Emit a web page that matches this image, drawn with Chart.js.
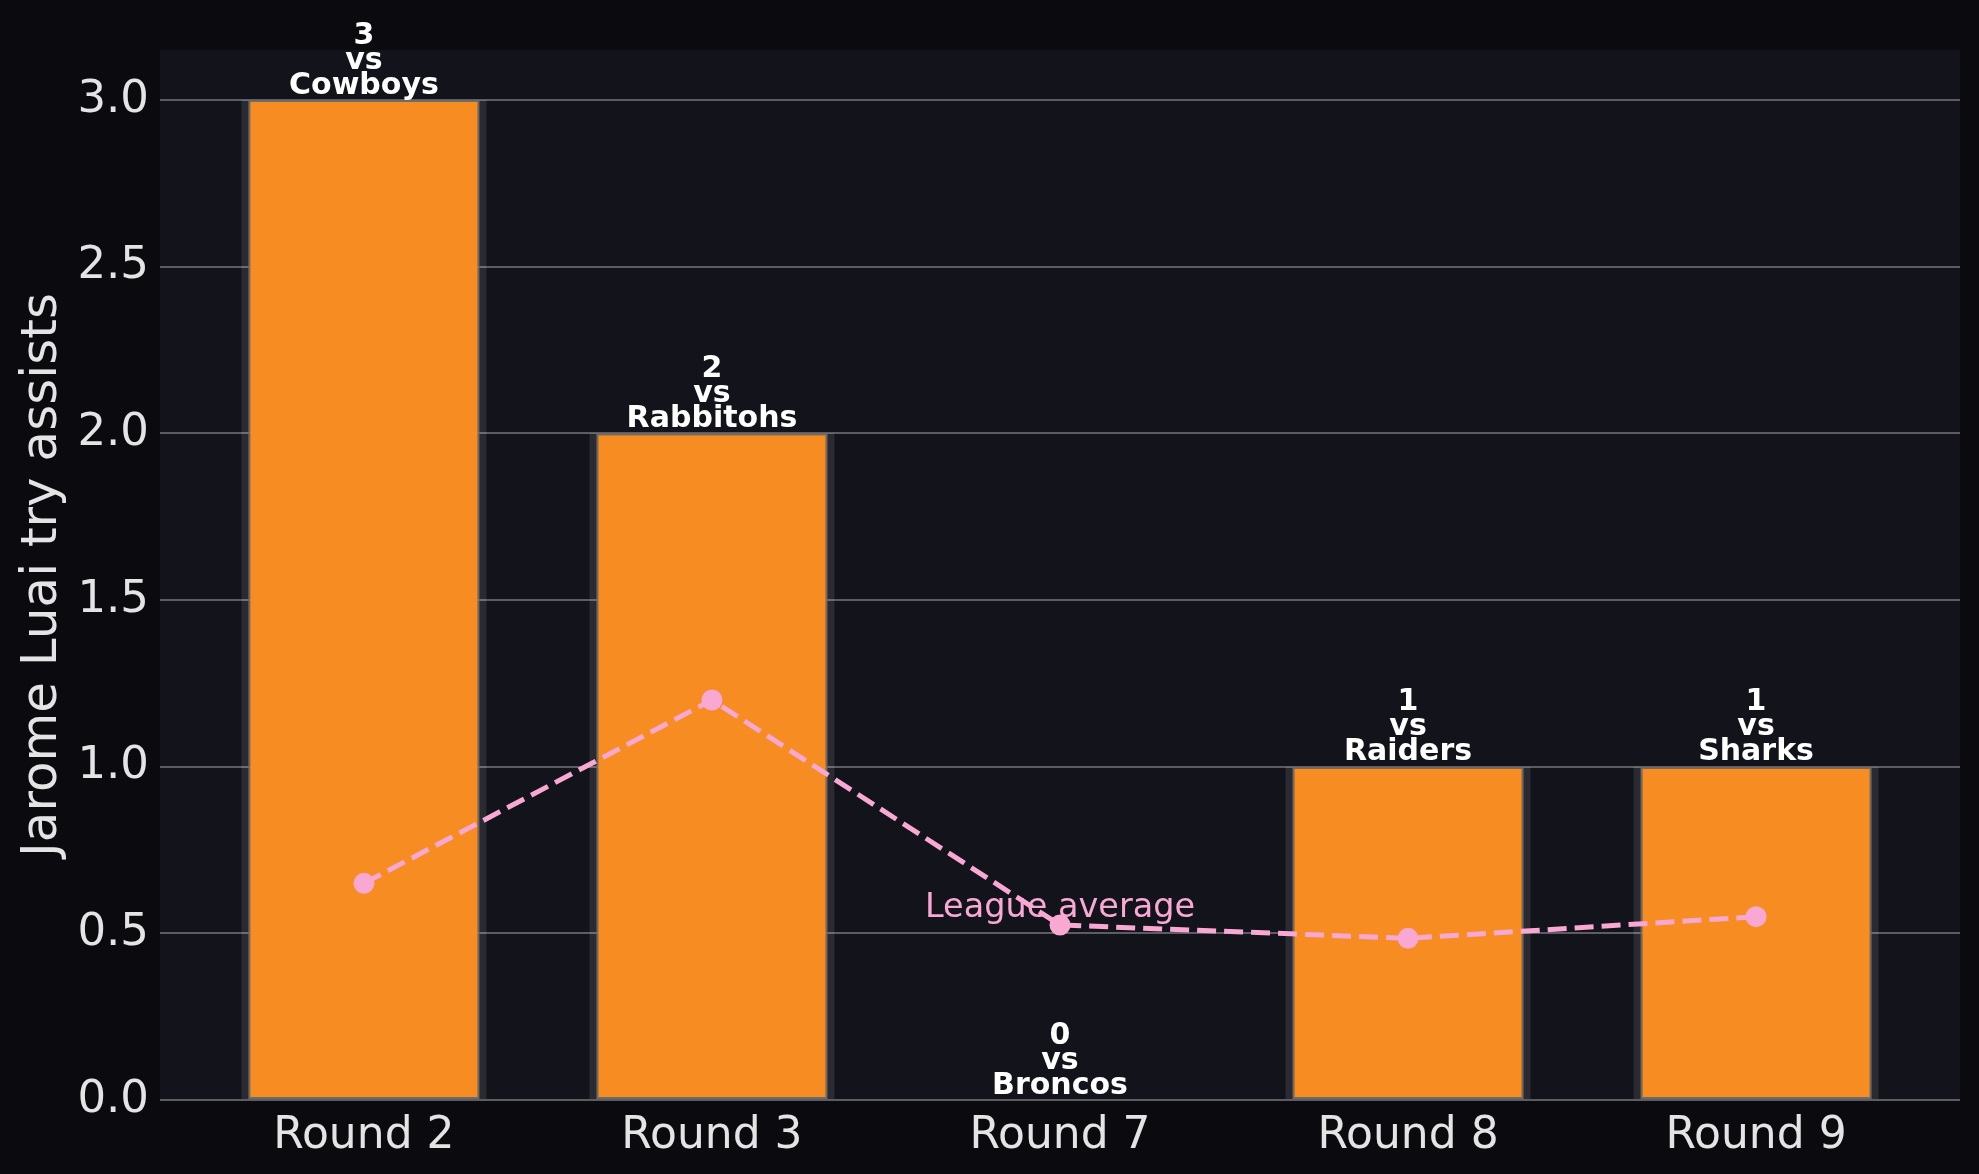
<!DOCTYPE html>
<html>
<head>
<meta charset="utf-8">
<script src="https://cdn.jsdelivr.net/npm/chart.js@4.4.1/dist/chart.umd.min.js"></script>
<style>
  body { margin: 0; background: #0b0b0f; }
  canvas { display: block; }
</style>
</head>
<body>
<canvas id="assistChart" width="1979" height="1174"></canvas>
<script>
let rounds = ["Round 2", "Round 3", "Round 7", "Round 8", "Round 9"];
let opponents = ["Cowboys", "Rabbitohs", "Broncos", "Raiders", "Sharks"];
let tryAssists = [3, 2, 0, 1, 1];
let leagueAverage = [0.65, 1.2, 0.525, 0.485, 0.55];
let yTicks = [0, 0.5, 1.0, 1.5, 2.0, 2.5, 3.0];

let orange = "#f68c22";
let pink = "#f9a8d4";
let textColor = "#e4e4e4";

function toPoints(values) {
  return values.map((v, i) => ({ x: i, y: v }));
}

// figure and plot area backgrounds
let backgroundPlugin = {
  id: "backgrounds",
  beforeDraw(chart) {
    let ctx = chart.ctx;
    let area = chart.chartArea;
    ctx.save();
    ctx.fillStyle = "#0b0b0f";
    ctx.fillRect(0, 0, chart.width, chart.height);
    ctx.fillStyle = "#12131b";
    ctx.fillRect(area.left, area.top, area.right - area.left, area.bottom - area.top);
    ctx.restore();
  }
};

// "3 / vs / Cowboys" above each bar, plus the league average note
let labelPlugin = {
  id: "barLabels",
  afterDatasetsDraw(chart) {
    let ctx = chart.ctx;
    let barMeta = chart.getDatasetMeta(1);
    ctx.save();
    ctx.textAlign = "center";
    ctx.textBaseline = "alphabetic";
    ctx.fillStyle = "#ffffff";
    ctx.font = "bold 30px 'DejaVu Sans'";
    barMeta.data.forEach((bar, i) => {
      let lines = [String(tryAssists[i]), "vs", opponents[i]];
      let baseY = bar.y - 6.5;
      for (let k = 0; k < lines.length; k++) {
        ctx.fillText(lines[lines.length - 1 - k], bar.x, baseY - k * 25);
      }
    });

    let avgPoint = chart.getDatasetMeta(0).data[2];
    ctx.fillStyle = pink;
    ctx.font = "33.5px 'DejaVu Sans'";
    ctx.fillText("League average", avgPoint.x, avgPoint.y - 8);
    ctx.restore();
  }
};

let chartContext = document.getElementById("assistChart").getContext("2d");
let assistChart = new Chart(chartContext, {
  type: "bar",
  data: {
    datasets: [{
      type: "line",
      label: "League average",
      data: toPoints(leagueAverage),
      borderColor: pink,
      borderWidth: 5,
      borderDash: [19, 8],
      pointRadius: 10.5,
      pointBackgroundColor: pink,
      pointBorderWidth: 0,
      tension: 0,
      order: 0
    }, {
      label: "Try assists",
      data: toPoints(tryAssists),
      backgroundColor: orange,
      borderColor: "#6b6b6b",
      borderWidth: 2,
      borderSkipped: false,
      categoryPercentage: 1,
      barPercentage: 0.665,
      grouped: false,
      order: 1
    }, {
      label: "shade",
      data: toPoints(tryAssists),
      backgroundColor: "rgba(255,255,255,0.1)",
      borderWidth: 0,
      categoryPercentage: 1,
      barPercentage: 0.704,
      grouped: false,
      order: 2
    }]
  },
  options: {
    responsive: false,
    animation: false,
    layout: { padding: { left: 0, top: 50, right: 19, bottom: 0 } },
    plugins: {
      legend: { display: false },
      tooltip: { enabled: false }
    },
    scales: {
      x: {
        type: "linear",
        min: -0.586,
        max: 4.586,
        offset: false,
        grid: { display: false, drawTicks: false },
        border: { display: false },
        afterBuildTicks: (scale) => {
          scale.ticks = rounds.map((r, i) => ({ value: i }));
        },
        afterFit: (scale) => { scale.height = 74; },
        ticks: {
          autoSkip: false,
          maxRotation: 0,
          padding: 10,
          color: textColor,
          font: { family: "DejaVu Sans", size: 44 },
          callback: (value) => rounds[value]
        }
      },
      y: {
        min: 0,
        max: 3.15,
        grid: { color: "#5c5c62", lineWidth: 2, drawTicks: false },
        border: { display: false },
        afterBuildTicks: (scale) => {
          scale.ticks = yTicks.map(v => ({ value: v }));
        },
        afterFit: (scale) => { scale.width = 160; },
        ticks: {
          padding: 11,
          color: textColor,
          font: { family: "DejaVu Sans", size: 45 },
          callback: (value) => Number(value).toFixed(1)
        },
        title: {
          display: true,
          text: "Jarome Luai try assists",
          color: textColor,
          font: { family: "DejaVu Sans", size: 50, lineHeight: 1.2 },
          padding: { top: 13, bottom: 0 }
        }
      }
    }
  },
  plugins: [backgroundPlugin, labelPlugin]
});
</script>
</body>
</html>
